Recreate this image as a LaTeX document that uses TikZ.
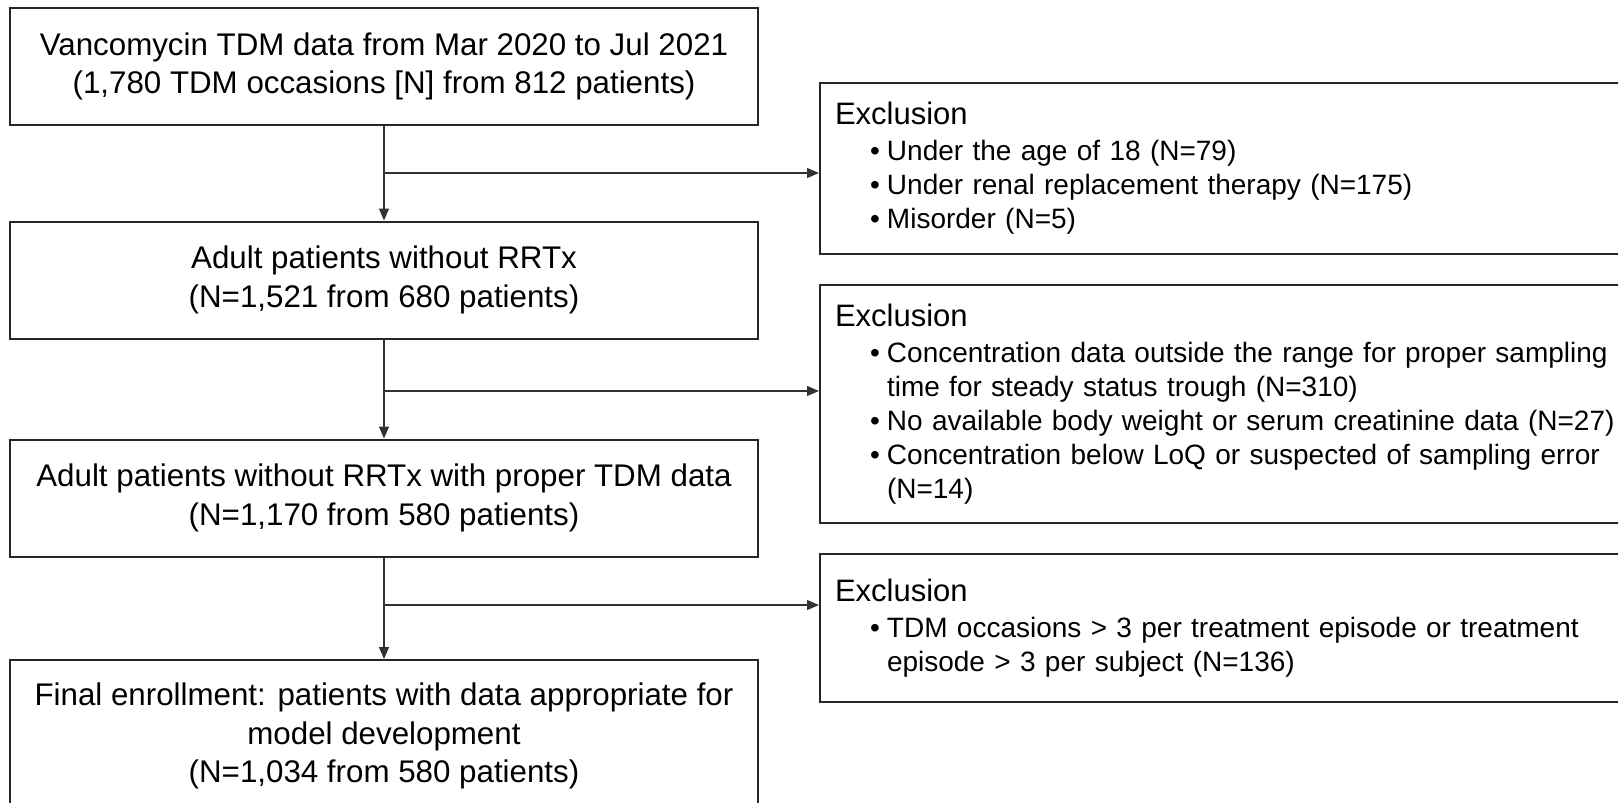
\documentclass[tikz,border=0pt]{standalone}
\usepackage{fontspec}
\setmainfont{Liberation Sans}
\usetikzlibrary{arrows.meta}
\usetikzlibrary{positioning}

\tikzset{
  flowbox/.style = {draw=black!85, line width=2pt, minimum width=748pt, minimum height=117pt,
    inner sep=0pt, align=center, font=\fontsize{31.3}{38.5}\selectfont},
  exbox/.style = {draw=black!85, line width=2pt, anchor=north west, text width=790pt,
    inner xsep=15pt, inner ysep=0pt, align=left, font=\fontsize{28}{34}\selectfont},
  link/.style = {draw=black!80, line width=1.2pt},
}
\newcommand{\exhead}{{\fontsize{31}{34}\selectfont Exclusion\par}\vspace{2pt}}
\newcommand{\exitem}[1]{\par\leftskip=52pt\noindent\llap{\textbullet\kern7pt}#1\par}

\begin{document}
\begin{tikzpicture}[x=1pt, y=-1pt, >={Triangle[length=12pt,width=10pt]}]
  \useasboundingbox (0,0) rectangle (1618,803);
  \clip (0,0) rectangle (1618,803);

  % main flow
  \node[flowbox] (start) at (384,66.5) {Vancomycin TDM data from Mar 2020 to Jul 2021\\(1,780 TDM occasions [N] from 812 patients)};
  \node[flowbox] (adult) at (384,280) {Adult patients without RRTx\\(N=1,521 from 680 patients)};
  \node[flowbox] (proper) at (384,498) {Adult patients without RRTx with proper TDM data\\(N=1,170 from 580 patients)};
  \node[flowbox, minimum height=0pt, inner ysep=23pt, anchor=north] (final) at (384,659) {Final enrollment: patients with data appropriate for\\model development\\(N=1,034 from 580 patients)};

  % exclusions
  \node[exbox, minimum height=171pt] (excl1) at (819,82) {\exhead
    \exitem{Under the age of 18 (N=79)}
    \exitem{Under renal replacement therapy (N=175)}
    \exitem{Misorder (N=5)}};
  \node[exbox, minimum height=238pt] (excl2) at (819,284) {\exhead
    \exitem{Concentration data outside the range for proper sampling time for steady status trough (N=310)}
    \exitem{No available body weight or serum creatinine data (N=27)}
    \exitem{Concentration below LoQ or suspected of sampling error (N=14)}};
  \node[exbox, minimum height=148pt] (excl3) at (819,553) {\exhead
    \exitem{TDM occasions > 3 per treatment episode or treatment episode > 3 per subject (N=136)}};

  % connectors
  \coordinate (split1) at (384,173);
  \coordinate (split2) at (384,391);
  \coordinate (split3) at (384,605);
  \draw[link, ->] (start.south) -- (adult.north);
  \draw[link, ->] (adult.south) -- (proper.north);
  \draw[link, ->] (proper.south) -- (final.north);
  \draw[link, ->] (split1) -- (split1 -| excl1.west);
  \draw[link, ->] (split2) -- (split2 -| excl2.west);
  \draw[link, ->] (split3) -- (split3 -| excl3.west);
\end{tikzpicture}
\end{document}
